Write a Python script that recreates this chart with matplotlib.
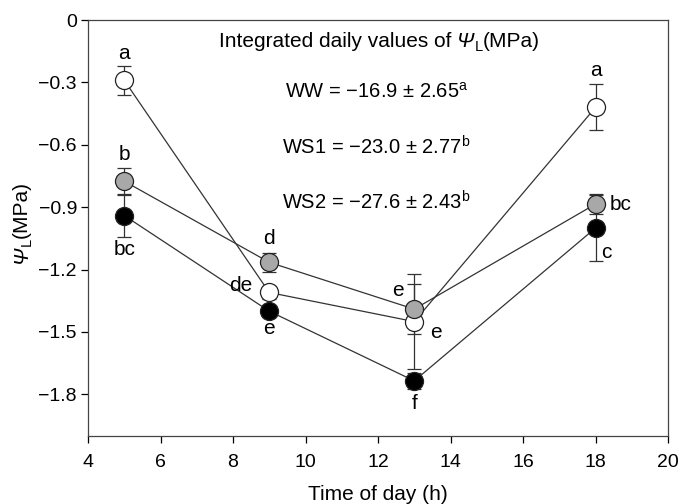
import matplotlib
matplotlib.use("Agg")
import matplotlib.pyplot as plt
from matplotlib.transforms import IdentityTransform
import numpy as np

plt.rcParams['font.family'] = ['Liberation Sans', 'DejaVu Sans']
plt.rcParams['mathtext.fontset'] = 'custom'
plt.rcParams['mathtext.rm'] = 'Liberation Sans'

# Hora do dia
horas = [5, 9, 13, 18]

# Potencial hídrico foliar (MPa) e erros
ww = [-0.29, -1.31, -1.45, -0.42]
ww_err = [0.07, 0.03, 0.23, 0.11]
ws1 = [-0.775, -1.165, -1.39, -0.885]
ws1_err = [0.065, 0.045, 0.12, 0.05]
ws2 = [-0.94, -1.40, -1.735, -1.00]
ws2_err = [0.105, 0.03, 0.04, 0.16]

# Letras de significância
letras_x = [5, 5, 5, 9, 8.2, 9, 12.55, 13.6, 13, 18, 18.7, 18.3]
letras_y = [-0.16, -0.645, -1.105, -1.05, -1.275, -1.485, -1.3, -1.5, -1.845, -0.245, -0.885, -1.12]
letras_txt = ['a', 'b', 'bc', 'd', 'de', 'e', 'e', 'e', 'f', 'a', 'bc', 'c']

# Valores integrados
resumo = [r'WW = −16.9 ± 2.65$^{\mathrm{a}}$',
          r'WS1 = −23.0 ± 2.77$^{\mathrm{b}}$',
          r'WS2 = −27.6 ± 2.43$^{\mathrm{b}}$']
resumo_y = [-0.345, -0.61, -0.875]

W, H = 679, 504
fig = plt.figure(figsize=(W / 100, H / 100), dpi=100)
ax = fig.add_axes([88 / W, 1 - 436 / H, 580 / W, 416 / H])

series = [
    (ww, ww_err, 'white'),
    (ws2, ws2_err, 'black'),
    (ws1, ws1_err, '#a8a8a8'),
]
for vals, errs, cor in series:
    ax.errorbar(horas, vals, yerr=errs, fmt='-o', color='#333333', lw=0.9,
                mfc=cor, mec='#222222', mew=0.9, ms=13, capsize=5,
                elinewidth=0.9, capthick=0.9)

for x, y, t in zip(letras_x, letras_y, letras_txt):
    ax.text(x, y, t, ha='center', va='center', fontsize=15)

for t, y in zip(resumo, resumo_y):
    ax.text(11.95, y, t, ha='center', va='center', fontsize=14.5)

ax.set_xlim(4, 20)
ax.set_ylim(-2.0, 0)
ax.set_xticks(np.arange(4, 21, 2))
ax.set_yticks([0, -0.3, -0.6, -0.9, -1.2, -1.5, -1.8])
ax.set_yticklabels(['0', '−0.3', '−0.6', '−0.9', '−1.2', '−1.5', '−1.8'])
ax.tick_params(direction='out', length=5, width=0.9, labelsize=14)
ax.tick_params(axis='x', pad=8)
ax.tick_params(axis='y', pad=3)
for s in ax.spines.values():
    s.set_linewidth(0.9)
    s.set_color('#444444')

ax.set_xlabel('Time of day (h)', fontsize=15, labelpad=10)


# texto com Psi em itálico e subscrito, montado por partes (coordenadas em pixels)
def texto_partes(x0, y0, partes, rot=0, size=15):
    fig.canvas.draw()
    rend = fig.canvas.get_renderer()
    x, y = x0, y0
    for txt, estilo, sub in partes:
        fs = size * 0.7 if sub else size
        dx, dy = (0, -4) if rot == 0 else (4, 0)
        px = x + (dx if sub else 0)
        py = y + (dy if sub else 0)
        t = fig.text(px, py, txt, transform=IdentityTransform(), fontsize=fs,
                     fontstyle=estilo, rotation=rot, rotation_mode='anchor',
                     ha='left', va='baseline')
        bb = t.get_window_extent(rend)
        if rot == 0:
            x = bb.x1
        else:
            y = bb.y1


texto_partes(219, H - 47, [('Integrated daily values of ', 'normal', False),
                           ('Ψ', 'italic', False),
                           ('L', 'normal', True),
                           ('(MPa)', 'normal', False)])
texto_partes(27, H - 263, [('Ψ', 'italic', False),
                           ('L', 'normal', True),
                           ('(MPa)', 'normal', False)], rot=90)

fig.savefig('out.png', dpi=100)
